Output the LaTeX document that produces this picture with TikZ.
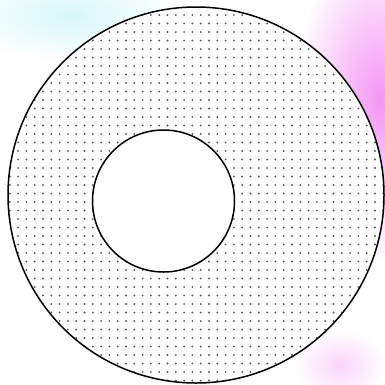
\documentclass[tikz,border=0pt]{standalone}
\usetikzlibrary{fadings}
\tikzfading[name=fuzzy, inner color=transparent!0, outer color=transparent!100]
\definecolor{blobpink}{RGB}{245,150,245}
\definecolor{blobcyan}{RGB}{215,248,248}
\tikzset{
  ring/.style={draw=black, line width=1.5pt},
  dot/.style={fill=black!65},
}
\begin{document}
\begin{tikzpicture}[x=1pt,y=-1pt]
\useasboundingbox (0,0) rectangle (385,384);
\fill[white] (0,0) rectangle (385,384);
% soft background blobs
\fill[blobcyan, path fading=fuzzy] (70,15) ellipse (110 and 45);
\fill[blobpink, path fading=fuzzy] (380,100) ellipse (85 and 160);
\fill[blobpink!40, path fading=fuzzy] (340,365) ellipse (45 and 35);
% annulus fill
\fill[white] (196,195) circle (188);
\begin{scope}
  \clip (196,195) circle (188);
  \foreach \i in {0,...,47} {
    \foreach \j in {0,...,46} {
      \fill[dot] (\i*8.3+1.5, \j*8.5+6.5) circle (1.05);
    }
  }
\end{scope}
\node[ring, circle, fill=white, minimum size=142pt, inner sep=0pt] (inner) at (163.5,201) {};
\node[ring, circle, minimum size=376pt, inner sep=0pt] (outer) at (196,195) {};
\end{tikzpicture}
\end{document}
